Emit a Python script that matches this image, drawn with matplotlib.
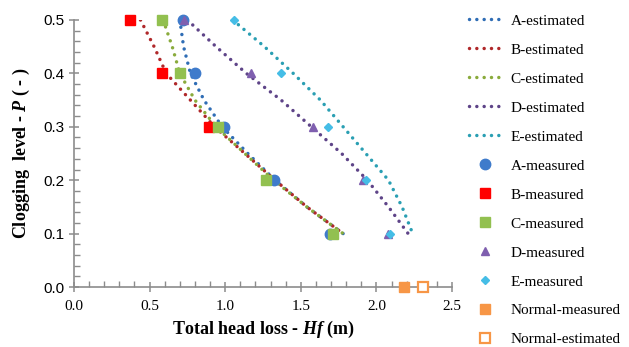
import matplotlib
matplotlib.use('Agg')
import matplotlib.pyplot as plt

# valores estimados (curvas punteadas) - nivel de colmatacion P vs perdida de carga Hf
p_est = [0.5, 0.45, 0.4, 0.35, 0.3, 0.25, 0.2, 0.15, 0.1]
hf_a_est = [0.70, 0.725, 0.77, 0.86, 0.98, 1.15, 1.33, 1.54, 1.78]
hf_b_est = [0.44, 0.53, 0.61, 0.77, 0.93, 1.13, 1.33, 1.54, 1.78]
hf_c_est = [0.59, 0.65, 0.70, 0.80, 0.94, 1.13, 1.32, 1.54, 1.78]
hf_d_est = [0.75, 0.94, 1.14, 1.37, 1.57, 1.77, 1.94, 2.08, 2.21]
hf_e_est = [1.05, 1.26, 1.45, 1.63, 1.78, 1.93, 2.08, 2.17, 2.24]

# valores medidos
p_meas = [0.5, 0.4, 0.3, 0.2, 0.1]
hf_a_meas = [0.72, 0.80, 0.99, 1.32, 1.69]
p_b_meas = [0.5, 0.4, 0.3]
hf_b_meas = [0.37, 0.58, 0.89]
hf_c_meas = [0.58, 0.70, 0.95, 1.27, 1.71]
hf_d_meas = [0.73, 1.17, 1.58, 1.91, 2.08]
hf_e_meas = [1.06, 1.37, 1.68, 1.93, 2.09]

# filtro sin colmatar
p_normal = [0.0]
hf_normal_meas = [2.18]
hf_normal_est = [2.31]

labels_est = ['A-estimated', 'B-estimated', 'C-estimated', 'D-estimated', 'E-estimated']
colors_est = ['#2f6db5', '#b0282a', '#8aab3c', '#5e4488', '#2a9fb3']
labels_meas = ['A-measured', 'B-measured', 'C-measured', 'D-measured', 'E-measured']
colors_meas = ['#3f7bcb', '#ff0000', '#92c050', '#7f5faf', '#45bde6']
markers_meas = ['o', 's', 's', '^', 'D']
sizes_meas = [7.5, 6.5, 7.5, 6, 4.5]

plt.rcParams['font.family'] = ['Liberation Serif', 'DejaVu Serif']
plt.rcParams['mathtext.fontset'] = 'custom'
plt.rcParams['mathtext.it'] = 'Liberation Serif:italic:bold'
plt.rcParams['mathtext.rm'] = 'Liberation Serif:bold'

fig = plt.figure(figsize=(6.29, 3.47), dpi=100)
ax = fig.add_axes([0.1176, 0.1729, 0.6010, 0.7695])

dotted = (0, (0.01, 2.1))
est_series = [hf_a_est, hf_b_est, hf_c_est, hf_d_est, hf_e_est]
for i in range(len(est_series)):
	ax.plot(est_series[i], p_est, color=colors_est[i], lw=2.5, linestyle=dotted,
		dash_capstyle='round', label=labels_est[i])

meas_x = [hf_a_meas, hf_b_meas, hf_c_meas, hf_d_meas, hf_e_meas]
meas_y = [p_meas, p_b_meas, p_meas, p_meas, p_meas]
for i in range(len(meas_x)):
	ax.plot(meas_x[i], meas_y[i], linestyle='none', marker=markers_meas[i],
		ms=sizes_meas[i], color=colors_meas[i], label=labels_meas[i], clip_on=False)

ax.plot(hf_normal_meas, p_normal, linestyle='none', marker='s', ms=7, color='#f79646',
	label='Normal-measured', clip_on=False, zorder=5)
ax.plot(hf_normal_est, p_normal, linestyle='none', marker='s', ms=7, mfc='white',
	mec='#f79646', mew=1.6, label='Normal-estimated', clip_on=False, zorder=5)

ax.set_xlim(0, 2.5)
ax.set_ylim(0, 0.5)
ax.set_xticks([0.0, 0.5, 1.0, 1.5, 2.0, 2.5])
ax.set_xticks([i * 0.1 for i in range(26)], minor=True)
ax.set_yticks([0.0, 0.1, 0.2, 0.3, 0.4, 0.5])
ax.set_yticks([i * 0.02 for i in range(26)], minor=True)
ax.xaxis.set_major_formatter(matplotlib.ticker.FormatStrFormatter('%.1f'))
ax.yaxis.set_major_formatter(matplotlib.ticker.FormatStrFormatter('%.1f'))

for s in ['top', 'right']:
	ax.spines[s].set_visible(False)
for s in ['left', 'bottom']:
	ax.spines[s].set_color('#8c8c8c')
	ax.spines[s].set_linewidth(1.2)

ax.tick_params(which='major', direction='inout', length=7, width=1.1, color='#8c8c8c',
	labelsize=11)
ax.tick_params(which='minor', direction='in', length=4, width=1.0, color='#8c8c8c')
ax.tick_params(axis='x', pad=6)
for lbl in ax.get_yticklabels():
	lbl.set_family(['Liberation Sans', 'DejaVu Sans'])

ax.set_xlabel('Total head loss - $\\mathit{Hf}$ (m)', fontsize=13, fontweight='bold', labelpad=4)
ax.set_ylabel('Clogging  level - $\\mathit{P}$ ( - )', fontsize=13, fontweight='bold', labelpad=8)

ax.legend(loc='upper left', bbox_to_anchor=(1.03, 1.045), frameon=False, fontsize=11,
	handlelength=2.1, handletextpad=0.6, labelspacing=1.0, borderaxespad=0)

fig.savefig('out.png', dpi=100)
